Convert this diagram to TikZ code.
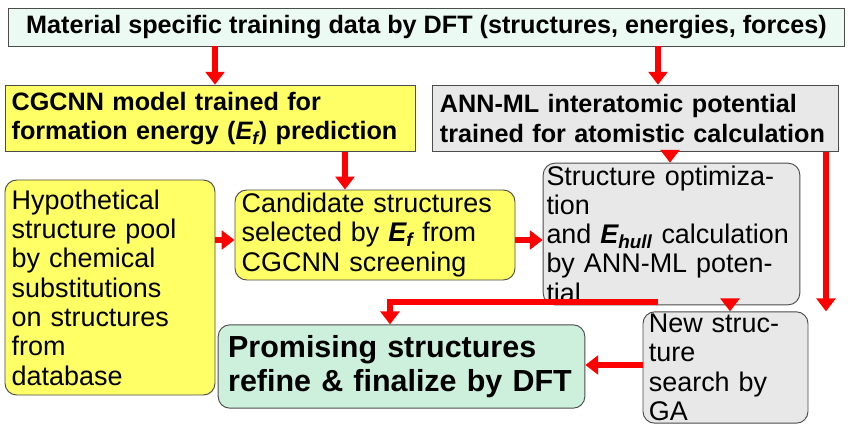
\documentclass[tikz,border=0pt]{standalone}
\usepackage{fontspec}
\setmainfont{Liberation Sans}
\usetikzlibrary{arrows.meta}
\definecolor{boxyellow}{RGB}{255,255,102}
\definecolor{boxgray}{RGB}{232,232,232}
\definecolor{boxmint}{RGB}{235,250,242}
\definecolor{boxgreen}{RGB}{204,240,220}
\tikzset{
  box/.style={draw=black!70,thick,align=center,inner sep=2pt,font=\fontsize{23}{25}\selectfont},
  rbox/.style={box,rounded corners=10pt},
  bbox/.style={box,font=\fontsize{21.5}{25}\selectfont\bfseries},
  flow/.style={red,line width=4.5pt,-{Triangle[width=16pt,length=11pt]}}
}
\begin{document}
\begin{tikzpicture}[x=0.03cm,y=-0.03cm]
\useasboundingbox (0,0) rectangle (851,423);
\node[bbox,fill=boxmint,minimum width=25.1cm,minimum height=1.14cm] (data) at (426.5,27) {Material specific training data by DFT (structures, energies, forces)};
\node[bbox,fill=boxyellow,minimum width=12.3cm,minimum height=2cm,text width=11.9cm,align=left] (cgcnn) at (210,118.5) {CGCNN model trained for\\formation energy (\textit{E\textsubscript{f}}) prediction};
\node[bbox,fill=boxgray,minimum width=12.18cm,minimum height=2cm,text width=11.7cm,align=left] (ann) at (635,118.5) {ANN-ML interatomic potential\\trained for atomistic calculation};
\node[rbox,fill=boxyellow,minimum width=6.3cm,minimum height=6.45cm,text width=5.9cm,align=left] (hypo) at (110,287.5) {Hypothetical\\structure pool\\by chemical\\substitutions\\on structures\\from\\database};
\node[rbox,fill=boxyellow,minimum width=8.4cm,minimum height=2.7cm,text width=8cm,align=left] (cand) at (375,235) {Candidate structures\\selected by \textbf{\textit{E\textsubscript{f}}} from\\CGCNN screening};
\node[rbox,fill=boxgray,minimum width=7.7cm,minimum height=2.94cm,text width=7.5cm,align=left] (opt) at (671.5,234) {Structure optimization\\and \textbf{\textit{E\textsubscript{hull}}} calculation\\by ANN-ML potential};
\node[rbox,fill=boxgreen,minimum width=11cm,minimum height=2.5cm,text width=10.4cm,align=left,font=\fontsize{26}{29}\selectfont\bfseries] (prom) at (401.5,366.5) {Promising structures\\refine \& finalize by DFT};
\node[rbox,fill=boxgray,minimum width=4.95cm,minimum height=2.25cm,text width=4.6cm,align=left] (ga) at (725.5,367.5) {New structure\\search by GA};
% arrow guides
\coordinate (x1) at (215,0);
\coordinate (x2) at (658,0);
\coordinate (x3) at (345,0);
\coordinate (x4) at (670,0);
\coordinate (x5) at (655,0);
\coordinate (x6) at (730,0);
\coordinate (x7) at (826,0);
\coordinate (y1) at (0,240);
\coordinate (y2) at (0,365);
\coordinate (bend1) at (655,302);
\coordinate (bend2) at (390,302);
% arrows
\draw[flow] (data.south -| x1) -- (cgcnn.north -| x1);
\draw[flow] (data.south -| x2) -- (ann.north -| x2);
\draw[flow] (cgcnn.south -| x3) -- (cand.north -| x3);
\draw[flow] (ann.south -| x4) -- (opt.north -| x4);
\draw[flow] (hypo.east |- y1) -- (cand.west |- y1);
\draw[flow] (cand.east |- y1) -- (opt.west |- y1);
\draw[flow] (opt.south -| x5) -- (bend1) -- (bend2) -- (prom.north -| bend2);
\draw[flow] (opt.south -| x6) -- (ga.north -| x6);
\draw[flow] (ann.south -| x7) -- (ga.north -| x7);
\draw[flow] (ga.west |- y2) -- (prom.east |- y2);
\end{tikzpicture}
\end{document}
